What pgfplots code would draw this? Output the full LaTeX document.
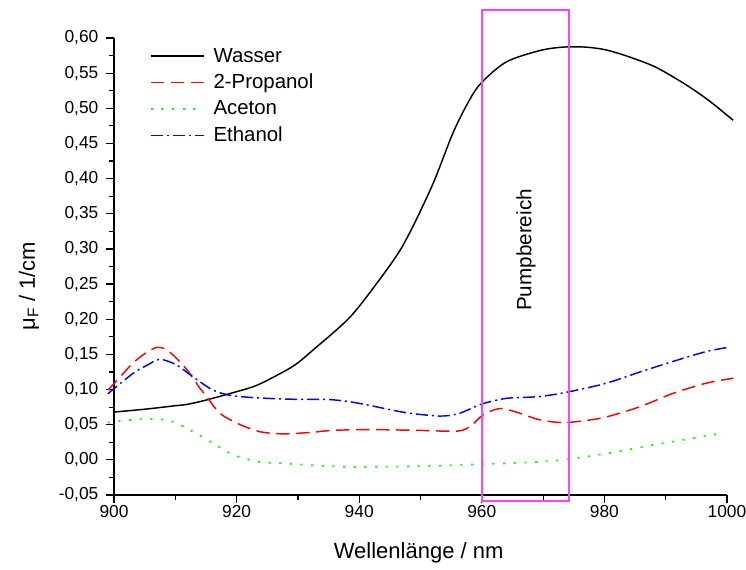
\documentclass[border=0pt]{standalone}
\usepackage{fontspec}
\setmainfont{Liberation Sans}
\usepackage{pgfplots}
\pgfplotsset{compat=1.18}
\definecolor{pinkbox}{RGB}{255,64,255}
\begin{document}
\begin{tikzpicture}
\useasboundingbox (-85.5pt,-55.5pt) rectangle (474pt,371.25pt);
\begin{axis}[
  at={(0pt,0pt)}, anchor=south west,
  scale only axis,
  width=459.75pt, height=342.75pt,
  xmin=900, xmax=1000, ymin=-0.05, ymax=0.60,
  clip=false,
  axis x line*=bottom, axis y line*=left,
  axis line style={-, line width=1pt},
  xtick align=outside, ytick align=outside,
  major tick length=6pt, minor tick length=3.5pt,
  every tick/.style={black, line width=0.9pt},
  xtick={900,920,940,960,980,1000},
  minor x tick num=1,
  ytick={-0.05,0,0.05,0.1,0.15,0.2,0.25,0.3,0.35,0.4,0.45,0.5,0.55,0.6},
  minor y tick num=1,
  /pgf/number format/assume math mode=true,
  tick label style={font=\fontsize{13}{15}\selectfont},
  x tick label style={yshift=2pt, /pgf/number format/.cd, fixed, precision=0, 1000 sep={}},
  y tick label style={xshift=-2.25pt, /pgf/number format/.cd, fixed, fixed zerofill, precision=2, use comma},
  xlabel={Wellenlänge / nm},
  ylabel={μ\textsubscript{F} / 1/cm},
  xlabel style={font=\fontsize{16.5}{19}\selectfont, at={(axis description cs:0.497,0)}, anchor=center, yshift=-43.5pt},
  ylabel style={font=\fontsize{16.5}{19}\selectfont, at={(axis description cs:0,0.457)}, anchor=center, yshift=63.75pt},
  legend style={at={(axis cs:905.8,0.586)}, anchor=north west, draw=none, fill=none,
    font=\fontsize{15.3}{18}\selectfont, row sep=7.5pt, inner sep=0pt,
    nodes={inner sep=0pt},
    /tikz/every odd column/.append style={column sep=6.75pt}},
  legend cell align=left,
  legend image code/.code={\draw[#1] (0pt,0pt) -- (39.75pt,0pt);},
]
\addplot[black, line width=1.1pt, smooth] coordinates {
(900,0.068) (905,0.072) (910,0.077) (912,0.079) (915,0.085) (920,0.097)
(923.3,0.106) (927.6,0.125) (930,0.138) (933.1,0.161) (935,0.175) (938.5,0.203)
(942,0.241) (947,0.303) (951.8,0.388) (955.3,0.465) (958,0.512) (960,0.537)
(964,0.566) (969.4,0.582) (973.2,0.587) (977,0.587) (980.3,0.583) (984.1,0.573)
(988.5,0.558) (993.4,0.533) (997.2,0.510) (1001,0.483)};
\addlegendentry{Wasser}
\addplot[red, line width=1.1pt, smooth, dash pattern=on 10pt off 5pt] coordinates {
(899,0.099) (901,0.118) (903,0.137) (905,0.151) (907,0.160) (908.5,0.157)
(910,0.146) (912,0.127) (914,0.102) (915.1,0.090) (917.3,0.066) (920.6,0.050)
(923.8,0.040) (927.6,0.037) (932,0.039) (935.8,0.042) (942,0.043) (949.3,0.042)
(956.1,0.041) (958.3,0.049) (960.2,0.064) (962.9,0.073) (965.6,0.068) (969.4,0.057)
(973.2,0.053) (977,0.056) (980.3,0.061) (985.8,0.0756) (991.2,0.0946) (996.6,0.109)
(1001,0.116)};
\addlegendentry{2-Propanol}
\addplot[green, line width=1.3pt, smooth, dash pattern=on 1.5pt off 6.5pt] coordinates {
(899,0.053) (903,0.057) (907,0.058) (909.7,0.054) (912.9,0.040) (915.7,0.026)
(919.5,0.007) (923.8,-0.003) (927.6,-0.005) (933.1,-0.008) (938.5,-0.010) (942.2,-0.010)
(950.4,-0.009) (960.2,-0.006) (966.7,-0.004) (973.2,0.000) (980.3,0.009) (988.5,0.022)
(993.9,0.030) (999.6,0.0385)};
\addlegendentry{Aceton}
\addplot[blue, line width=1.1pt, smooth, dash pattern=on 9pt off 3pt on 1.5pt off 3pt] coordinates {
(899,0.094) (903.1,0.123) (905.5,0.135) (907.5,0.143) (910.2,0.135) (912.9,0.118)
(916.2,0.099) (919.5,0.091) (924.9,0.0875) (930.3,0.086) (934.7,0.086) (938.5,0.0826)
(942.2,0.0765) (947.7,0.067) (953.1,0.0623) (955.9,0.065) (958,0.072) (960.2,0.080)
(964,0.0875) (969.4,0.090) (974.3,0.097) (980.3,0.109) (985.8,0.125) (991.2,0.140)
(996.6,0.154) (1000.2,0.160)};
\addlegendentry{Ethanol}
\draw[pinkbox, line width=1.4pt] (axis cs:960.1,-0.058) rectangle (axis cs:974.2,0.64);
\node[rotate=90, font=\fontsize{15.5}{18}\selectfont] at (axis cs:967.2,0.2985) {Pumpbereich};
\end{axis}
\end{tikzpicture}
\end{document}
